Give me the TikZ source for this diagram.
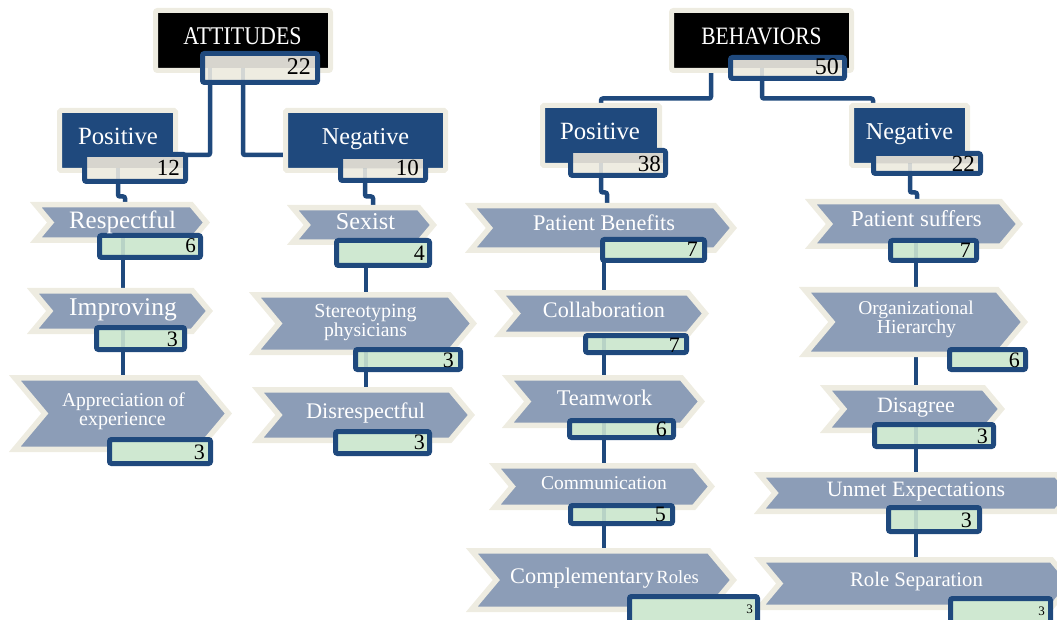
\documentclass[tikz,border=0pt]{standalone}
\usepackage{fontspec}
\setmainfont{Liberation Serif}
\newfontfamily\titlefont[FakeStretch=0.86]{Liberation Serif}
\usetikzlibrary{calc}
\definecolor{cream}{HTML}{EEECE1}
\definecolor{navy}{HTML}{1F497D}
\definecolor{chevblue}{HTML}{8C9DB7}
\definecolor{cntgreen}{HTML}{CFE8D1}
\definecolor{cntgray}{HTML}{D7D5CE}
\pgfdeclarelayer{bg}
\pgfsetlayers{bg,main}
\newcommand\fsz[1]{\fontsize{#1}{#1}\selectfont}
\tikzset{
  conn/.style={draw=navy, line width=4.5pt, rounded corners=2pt},
  chevstyle/.style={fill=chevblue, draw=cream, line width=5.5pt, line join=miter},
  titlebox/.style={rectangle, fill=black, draw=cream, line width=5pt, rounded corners=2pt, inner sep=0pt, outer sep=0pt},
  lvlbox/.style={rectangle, fill=navy, draw=cream, line width=5pt, rounded corners=1.5pt, inner sep=0pt, outer sep=0pt},
  cntbox/.style={rectangle, draw=navy, line width=5pt, rounded corners=2pt, inner sep=0pt, outer sep=0pt, fill=cntgreen},
  topcnt/.style={cntbox, fill=cream, path picture={\fill[cntgray] (path picture bounding box.north west) rectangle (path picture bounding box.east);}},
  stub/.style={draw=navy, draw opacity=0.13, line width=4.5pt},
  lbl/.style={anchor=base, inner sep=0pt, text=white},
  num/.style={anchor=base east, inner sep=0pt, text=black},
}
% box node: style, name, xL, xR, yT, yB (outer extents in px)
\newcommand\bx[6]{\node[#1, minimum width={#4-#3-5}, minimum height={#6-#5-5}] (#2) at ({(#3+#4)/2},{(#5+#6)/2}) {};}
% chevron: name, xL, xR, yT, yB
\newcommand\chev[5]{%
  \pgfmathsetmacro\chvxl{#2+2.75}\pgfmathsetmacro\chvxr{#3-3.6}%
  \pgfmathsetmacro\chvyt{#4+2.75}\pgfmathsetmacro\chvyb{#5-2.75}%
  \pgfmathsetmacro\chvym{(#4+#5)/2}%
  \pgfmathsetmacro\chvd{0.42*(\chvyb-\chvyt)}%
  \path[chevstyle] (\chvxl,\chvyt) -- ({\chvxr-\chvd},\chvyt) -- (\chvxr,\chvym) -- ({\chvxr-\chvd},\chvyb) -- (\chvxl,\chvyb) -- ({\chvxl+\chvd},\chvym) -- cycle;
  \coordinate (#1) at ({(#2+#3)/2},{#4+5});
  \coordinate (#1-b) at ({(#2+#3)/2},{#5-5});
}
\begin{document}
\begin{tikzpicture}[x=1pt,y=-1pt]
\useasboundingbox (0,0) rectangle (1057,620);
\clip (0,0) rectangle (1057,620);

% chevrons
\chev{chResp}{33}{210}{202}{243}
\chev{chImp}{30}{213}{288}{334}
\chev{chApp}{12}{232}{375}{452}
\chev{chSex}{290}{437}{205}{245}
\chev{chSte}{252}{477}{292}{355}
\chev{chDis}{255}{475}{387}{443}
\chev{chPB}{468}{737}{203}{253}
\chev{chCol}{497}{709}{290}{337}
\chev{chTea}{505}{705}{375}{428}
\chev{chCom}{492}{715}{463}{510}
\chev{chCR}{469}{737}{548}{612}
\chev{chPS}{808}{1023}{199}{249}
\chev{chOH}{802}{1028}{287}{357}
\chev{chDsg}{823}{1005}{385}{433}
\chev{chUE}{757}{1075}{472}{514}
\chev{chRS}{757}{1075}{557}{610}

% title and level boxes
\bx{titlebox}{tAtt}{153}{333}{8}{73}
\bx{titlebox}{tBeh}{669}{854}{8}{73}
\bx{lvlbox}{bPosA}{57}{178}{108}{173}
\bx{lvlbox}{bNegA}{283}{448}{108}{173}
\bx{lvlbox}{bPosB}{540}{662}{103}{168}
\bx{lvlbox}{bNegB}{849}{970}{103}{168}

% count boxes
\bx{topcnt}{cAtt}{200}{320}{51}{85}
\bx{topcnt}{cBeh}{728}{847}{55}{81}
\bx{topcnt}{cPosA}{82}{188}{152}{184}
\bx{topcnt}{cNegA}{338}{428}{154}{183}
\bx{topcnt}{cPosB}{568}{668}{148}{178}
\bx{topcnt}{cNegB}{871}{983}{151}{176}
\bx{cntbox}{cResp}{97}{203}{233}{260}
\bx{cntbox}{cImp}{94}{187}{325}{352}
\bx{cntbox}{cApp}{107}{213}{437}{466}
\bx{cntbox}{cSex}{334}{432}{238}{268}
\bx{cntbox}{cSte}{353}{463}{347}{372}
\bx{cntbox}{cDis}{333}{432}{429}{456}
\bx{cntbox}{cPB}{600}{707}{237}{263}
\bx{cntbox}{cCol}{583}{689}{333}{355}
\bx{cntbox}{cTea}{567}{676}{418}{440}
\bx{cntbox}{cCom}{568}{675}{503}{526}
\bx{cntbox}{cCR}{627}{760}{594}{630}
\bx{cntbox}{cPS}{888}{979}{238}{263}
\bx{cntbox}{cOH}{947}{1028}{347}{372}
\bx{cntbox}{cDsg}{872}{996}{422}{449}
\bx{cntbox}{cUE}{886}{982}{505}{534}
\bx{cntbox}{cRS}{948}{1053}{596}{630}

% connectors (behind)
\begin{pgfonlayer}{bg}
\draw[conn] (cAtt.south -| 210,0) |- (cPosA.east |- 0,155);
\draw[conn] (cAtt.south -| 243,0) |- (bNegA.west |- 0,155);
\draw[conn] (tBeh.south -| 711,0) |- ($(bPosB.north)+(0,-7)$) -- (bPosB.north);
\draw[conn] (cBeh.south -| 762,0) |- ($(bNegB.north -| 873,0)+(0,-7)$) -- (bNegB.north -| 873,0);
\draw[conn] (cPosA.south -| 118,0) -- ++(0,15) -| (chResp -| 125,0);
\draw[conn] (cNegA.south -| 365,0) -- ++(0,16) -| (chSex -| 373,0);
\draw[conn] (cPosB.south -| 601,0) -- ++(0,17) -| (chPB -| 607,0);
\draw[conn] (cNegB.south -| 910,0) -- ++(0,19) -| (chPS -| 917,0);
\draw[conn] (cResp.south -| 123,0) -- (chImp -| 123,0);
\draw[conn] (cImp.south -| 123,0) -- (chApp -| 123,0);
\draw[conn] (cSex.south -| 366,0) -- (chSte -| 366,0);
\draw[conn] (cSte.south -| 366,0) -- (chDis -| 366,0);
\draw[conn] (cPB.south -| 604,0) -- (chCol -| 604,0);
\draw[conn] (cCol.south -| 604,0) -- (chTea -| 604,0);
\draw[conn] (cTea.south -| 604,0) -- (chCom -| 604,0);
\draw[conn] (cCom.south -| 604,0) -- (chCR -| 604,0);
\draw[conn] (cPS.south -| 916,0) -- (chOH -| 916,0);
\draw[conn] (chOH-b -| 916,0) -- (chDsg -| 916,0);
\draw[conn] (cDsg.south -| 916,0) -- (chUE -| 916,0);
\draw[conn] (cUE.south -| 916,0) -- (chRS -| 916,0);
\end{pgfonlayer}

% faint stubs of connectors seen through the count boxes
\draw[stub] (cAtt -| 210,0) -- (cAtt.south -| 210,0);
\draw[stub] (cAtt -| 243,0) -- (cAtt.south -| 243,0);
\draw[stub] (cBeh -| 762,0) -- (cBeh.south -| 762,0);
\draw[stub] (cPosA -| 118,0) -- (cPosA.south -| 118,0);
\draw[stub] (cNegA -| 365,0) -- (cNegA.south -| 365,0);
\draw[stub] (cPosB -| 601,0) -- (cPosB.south -| 601,0);
\draw[stub] (cNegB -| 910,0) -- (cNegB.south -| 910,0);
\draw[stub] (cResp.north -| 123,0) -- (cResp.south -| 123,0);
\draw[stub] (cImp.north -| 123,0) -- (cImp.south -| 123,0);
\draw[stub] (cSte.north -| 366,0) -- (cSte.south -| 366,0);
\draw[stub] (cCol.north -| 604,0) -- (cCol.south -| 604,0);
\draw[stub] (cTea.north -| 604,0) -- (cTea.south -| 604,0);
\draw[stub] (cCom.north -| 604,0) -- (cCom.south -| 604,0);
\draw[stub] (cPS.north -| 916,0) -- (cPS.south -| 916,0);
\draw[stub] (cDsg.north -| 916,0) -- (cDsg.south -| 916,0);
\draw[stub] (cUE.north -| 916,0) -- (cUE.south -| 916,0);

% titles and level labels
\node[lbl, font=\titlefont\fsz{25.5}] (lAtt) at (242.5,45) {ATTITUDES};
\node[lbl, font=\titlefont\fsz{25}] (lBeh) at (761.5,45) {BEHAVIORS};
\node[lbl, font=\fsz{24.8}] (lPosA) at (118,145) {Positive};
\node[lbl, font=\fsz{24.2}] (lNegA) at (365.5,145) {Negative};
\node[lbl, font=\fsz{24.8}] (lPosB) at (600,140) {Positive};
\node[lbl, font=\fsz{24.2}] (lNegB) at (909.5,140) {Negative};

% chevron labels
\node[lbl, font=\fsz{25}] (lResp) at (122.5,229) {Respectful};
\node[lbl, font=\fsz{25.5}] (lImp) at (123,315) {Improving};
\node[lbl, font=\fsz{19.5}] (lApp1) at (123.5,406) {Appreciation of};
\node[lbl, font=\fsz{20}] (lApp2) at (122.5,425) {experience};
\node[lbl, font=\fsz{24.2}] (lSex) at (365.5,230) {Sexist};
\node[lbl, font=\fsz{20}] (lSte1) at (365.5,317) {Stereotyping};
\node[lbl, font=\fsz{19.6}] (lSte2) at (365.5,336) {physicians};
\node[lbl, font=\fsz{22.3}] (lDis) at (365.5,418) {Disrespectful};
\node[lbl, font=\fsz{22.3}] (lPB) at (604,231) {Patient Benefits};
\node[lbl, font=\fsz{22.2}] (lCol) at (604,317) {Collaboration};
\node[lbl, font=\fsz{22.4}] (lTea) at (604.5,405) {Teamwork};
\node[lbl, font=\fsz{19.5}] (lCom) at (604,489) {Communication};
\node[lbl] (lCR) at (604.5,583) {{\fsz{22.3}Complementary} {\fsz{18.6}Roles}};
\node[lbl, font=\fsz{22.8}] (lPS) at (916.5,227) {Patient suffers};
\node[lbl, font=\fsz{19.5}] (lOH1) at (916,314) {Organizational};
\node[lbl, font=\fsz{19.8}] (lOH2) at (916.5,333) {Hierarchy};
\node[lbl, font=\fsz{21.9}] (lDsg) at (916,412) {Disagree};
\node[lbl, font=\fsz{21.9}] (lUE) at (916,496) {Unmet Expectations};
\node[lbl, font=\fsz{20.7}] (lRS) at (916.5,586) {Role Separation};

% numbers
\node[num, font=\fsz{24}] (nAtt) at (311,75) {22};
\node[num, font=\fsz{24}] (nBeh) at (839,75) {50};
\node[num, font=\fsz{23}] (nPosA) at (180,176) {12};
\node[num, font=\fsz{23}] (nNegA) at (419,176) {10};
\node[num, font=\fsz{23}] (nPosB) at (661,172) {38};
\node[num, font=\fsz{23}] (nNegB) at (975,172) {22};
\node[num, font=\fsz{21}] (nResp) at (196,253) {6};
\node[num, font=\fsz{22}] (nImp) at (178,346) {3};
\node[num, font=\fsz{22}] (nApp) at (205,459) {3};
\node[num, font=\fsz{22}] (nSex) at (425,261) {4};
\node[num, font=\fsz{22}] (nSte) at (454,367) {3};
\node[num, font=\fsz{22}] (nDis) at (425,449) {3};
\node[num, font=\fsz{22}] (nPB) at (698,257) {7};
\node[num, font=\fsz{22}] (nCol) at (680,352) {7};
\node[num, font=\fsz{22}] (nTea) at (667,436) {6};
\node[num, font=\fsz{22}] (nCom) at (666,521) {5};
\node[num, font=\fsz{13}] (nCR) at (753,613) {3};
\node[num, font=\fsz{22}] (nPS) at (971,258) {7};
\node[num, font=\fsz{22}] (nOH) at (1020,367) {6};
\node[num, font=\fsz{22}] (nDsg) at (988,443) {3};
\node[num, font=\fsz{22}] (nUE) at (972,527) {3};
\node[num, font=\fsz{13}] (nRS) at (1045,615) {3};
\end{tikzpicture}
\end{document}
